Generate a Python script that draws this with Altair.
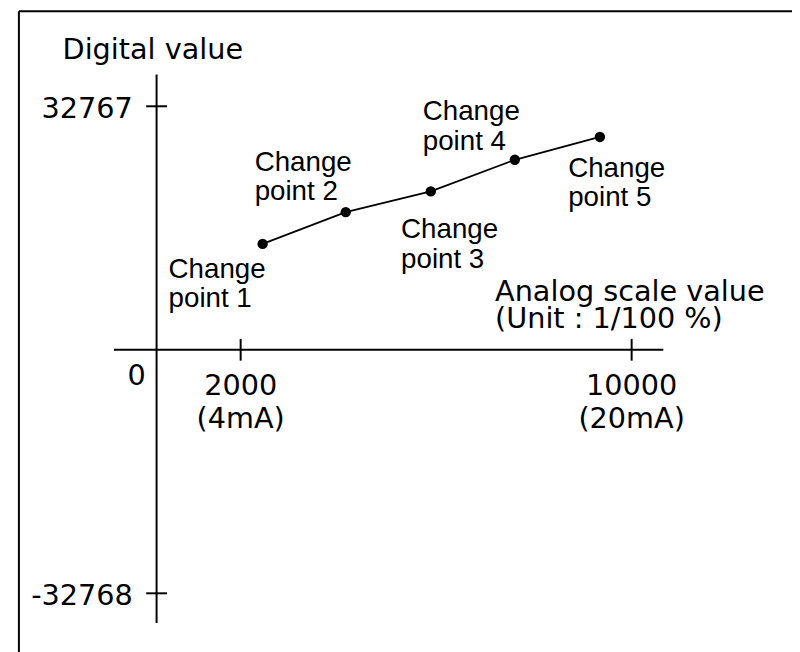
import altair as alt
import pandas as pd

# ---------------- data ----------------
point_ids = [1, 2, 3, 4, 5]
analog_values = [2450, 4150, 5890, 7610, 9350]          # 1/100 %
digital_values = [14250, 18520, 21310, 25570, 28640]    # digital value
point_labels = ["Change\npoint 1", "Change\npoint 2", "Change\npoint 3",
                "Change\npoint 4", "Change\npoint 5"]

y_tick_values = [32767, -32768]
y_tick_labels = ["32767", "-32768"]
zero_label = ["0"]
x_tick_values = [2000, 10000]
x_tick_labels = ["2000\n(4mA)", "10000\n(20mA)"]

y_axis_title = ["Digital value"]
x_axis_title = ["Analog scale value\n(Unit : 1/100 %)"]

axis_crossing_x = 280            # analog value where the vertical axis sits
x_axis_extent = [-593, 10648]
y_axis_extent = [-36764, 37029]

# ---------------- tables ----------------
pts = pd.DataFrame({"id": point_ids, "x": analog_values, "y": digital_values,
                    "label": point_labels})
yt = pd.DataFrame({"x": [axis_crossing_x] * len(y_tick_values),
                   "y": y_tick_values, "label": y_tick_labels})
xt = pd.DataFrame({"x": x_tick_values, "y": [0] * len(x_tick_values),
                   "label": x_tick_labels})
zero_df = pd.DataFrame({"x": [axis_crossing_x], "y": [0], "label": zero_label})
vaxis = pd.DataFrame({"x": [axis_crossing_x], "y": [y_axis_extent[0]],
                      "y2": [y_axis_extent[1]]})
haxis = pd.DataFrame({"x": [x_axis_extent[0]], "x2": [x_axis_extent[1]], "y": [0]})
ytitle = pd.DataFrame({"x": [axis_crossing_x], "y": [y_axis_extent[1]],
                       "label": y_axis_title})
xtitle = pd.DataFrame({"x": [x_axis_extent[1]], "y": [0], "label": x_axis_title})

XS = alt.Scale(domain=[-2760, 13281], nice=False, zero=False)
YS = alt.Scale(domain=[-40227, 45554], nice=False, zero=False)
FONT = "Liberation Sans"
WIDE = "DejaVu Sans"


def X(f="x"):
    return alt.X(f"{f}:Q", scale=XS, axis=None)


def Y(f="y"):
    return alt.Y(f"{f}:Q", scale=YS, axis=None)


# frame (left and top edges of the figure box)
frame_left = alt.Chart(pd.DataFrame({"a": [0]})).mark_rule(
    color="black", strokeWidth=2).encode(
    x=alt.value(11), y=alt.value(0), y2=alt.value(700))
frame_top = alt.Chart(pd.DataFrame({"a": [0]})).mark_rule(
    color="black", strokeWidth=2).encode(
    x=alt.value(11), x2=alt.value(800), y=alt.value(0))

v_line = alt.Chart(vaxis).mark_rule(color="black", strokeWidth=2).encode(
    x=X(), y=Y(), y2="y2:Q")
h_line = alt.Chart(haxis).mark_rule(color="black", strokeWidth=2).encode(
    x=X(), x2="x2:Q", y=Y())

y_ticks = alt.Chart(yt).mark_tick(orient="horizontal", size=21, thickness=2,
                                  color="black", opacity=1).encode(x=X(), y=Y())
x_ticks = alt.Chart(xt).mark_tick(orient="vertical", size=22, thickness=2,
                                  color="black", opacity=1).encode(x=X(), y=Y())

line = alt.Chart(pts).mark_line(color="black", strokeWidth=1.8).encode(
    x=X(), y=Y(), order="x:Q")
dots = alt.Chart(pts).mark_circle(color="black", size=110, opacity=1).encode(
    x=X(), y=Y())

label_offsets = {1: (-95, 34), 2: (-92, -42), 3: (-30, 47), 4: (-93, -40), 5: (-32, 40)}
label_layers = []
for pid, (ddx, ddy) in label_offsets.items():
    label_layers.append(
        alt.Chart(pts).transform_filter(alt.datum.id == pid).mark_text(
            align="left", baseline="alphabetic", dx=ddx, dy=ddy, font=FONT,
            fontSize=28, lineBreak="\n", lineHeight=30, color="black").encode(
            x=X(), y=Y(), text="label:N"))

y_tick_text = alt.Chart(yt).mark_text(
    align="right", baseline="alphabetic", dx=-24, dy=12, font=WIDE, fontSize=29,
    color="black").encode(x=X(), y=Y(), text="label:N")
zero_text = alt.Chart(zero_df).mark_text(
    align="right", baseline="alphabetic", dx=-11, dy=36, font=WIDE, fontSize=29,
    color="black").encode(x=X(), y=Y(), text="label:N")
x_tick_text = alt.Chart(xt).mark_text(
    align="center", baseline="alphabetic", dy=46, font=WIDE, fontSize=29,
    lineBreak="\n", lineHeight=33, color="black").encode(x=X(), y=Y(), text="label:N")

ytitle_text = alt.Chart(ytitle).mark_text(
    align="left", baseline="alphabetic", dx=-95, dy=-16, font=WIDE, fontSize=29,
    color="black").encode(x=X(), y=Y(), text="label:N")
xtitle_text = alt.Chart(xtitle).mark_text(
    align="left", baseline="alphabetic", dx=-170, dy=-49, font=WIDE, fontSize=29,
    lineBreak="\n", lineHeight=27, color="black").encode(x=X(), y=Y(), text="label:N")

chart = alt.layer(
    frame_left, frame_top, v_line, h_line, y_ticks, x_ticks, line, dots,
    *label_layers, y_tick_text, zero_text, x_tick_text, ytitle_text, xtitle_text
).properties(
    width=792, height=644, padding=0,
    autosize=alt.AutoSizeParams(type="none"),
    background="white",
).configure_view(stroke=None)

chart.save("out.html", embed_options={"renderer": "svg", "actions": False})
